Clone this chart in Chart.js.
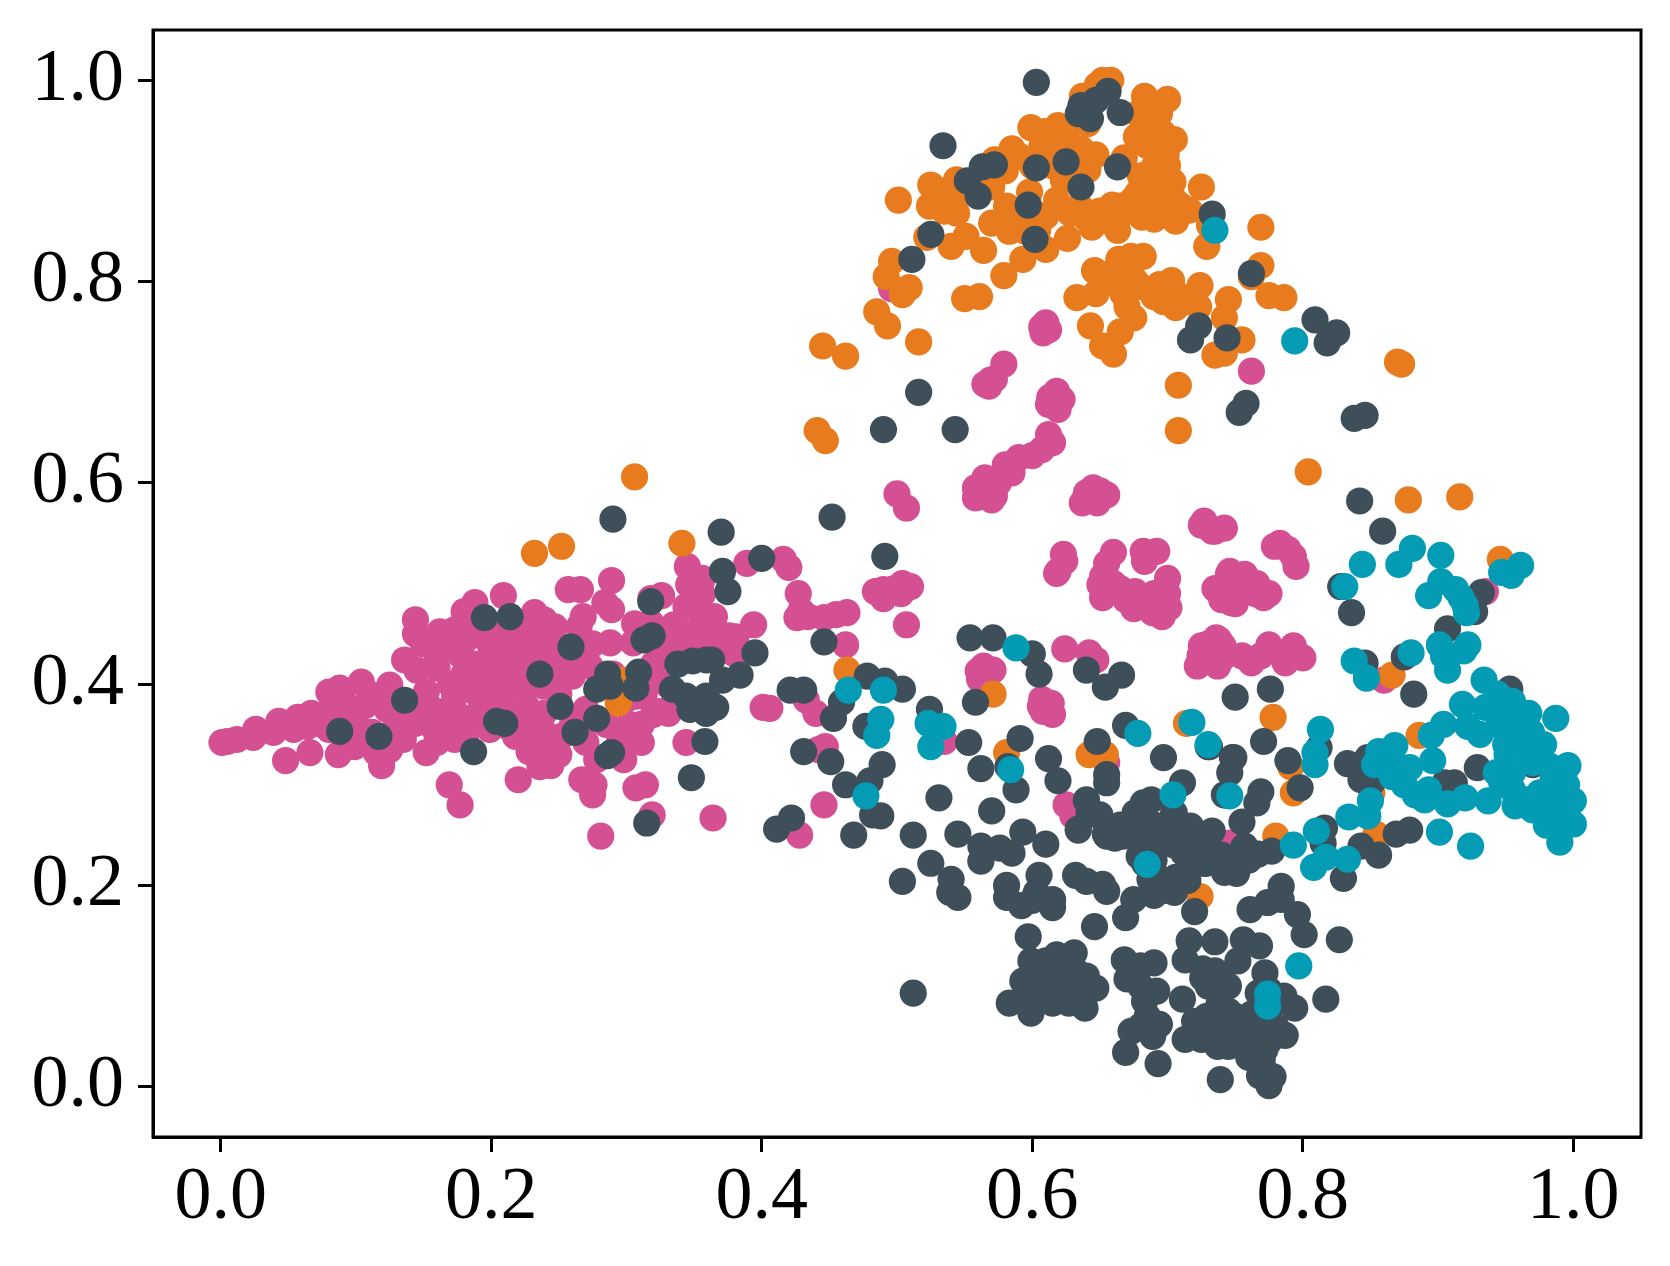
<!DOCTYPE html>
<html>
<head>
<meta charset="utf-8">
<style>
html, body { margin: 0; padding: 0; background: #fff; }
canvas { display: block; }
</style>
<script src="https://cdn.jsdelivr.net/npm/chart.js@4/dist/chart.umd.min.js"></script>
</head>
<body>
<canvas id="id_chart" width="1670" height="1266"></canvas>
<script>
var tickValues = [0, 0.2, 0.4, 0.6, 0.8, 1.0];

// values, [x, y]
var pinkPoints = [
[.001,.342],[.005,.343],[.012,.345],[.024,.347],[.026,.355],[.039,.352],[.043,.363],[.057,.367],[.054,.355],[.048,.324],[.066,.332],[.087,.330],[.067,.371],
[.080,.392],[.088,.396],[.104,.402],[.125,.399],[.088,.376],[.107,.379],[.123,.375],[.080,.373],[.096,.359],[.099,.338],[.080,.355],[.064,.358],[.115,.332],[.125,.335],[.119,.319],[.112,.352],[.107,.342],
[.144,.464],[.144,.450],[.136,.424],[.145,.414],[.160,.416],[.162,.452],[.173,.454],[.180,.472],[.188,.481],[.209,.488],
[.160,.429],[.178,.428],[.181,.444],[.197,.444],[.199,.424],
[.152,.392],[.149,.378],[.144,.361],[.160,.373],[.173,.388],[.186,.398],[.199,.405],[.212,.418],[.226,.438],[.212,.438],[.232,.471],[.239,.464],[.247,.457],[.228,.454],[.268,.467],[.257,.494],[.266,.494],[.289,.503],[.284,.481],[.289,.474],[.265,.457],[.288,.441],[.306,.460],[.305,.441],[.318,.485],
[.223,.418],[.239,.428],[.252,.414],[.260,.408],[.273,.418],[.212,.398],[.226,.398],[.239,.398],[.191,.388],[.199,.378],[.212,.378],[.226,.378],[.239,.371],[.212,.358],[.218,.348],[.228,.342],[.239,.352],[.199,.355],[.181,.348],[.160,.348],[.160,.342],[.152,.332],[.173,.345],
[.228,.333],[.236,.318],[.244,.319],[.220,.305],[.169,.300],[.177,.280],
[.267,.305],[.276,.300],[.275,.290],[.307,.297],[.314,.300],
[.281,.249],[.319,.270],[.364,.267],
[.252,.348],[.270,.342],[.278,.325],[.298,.325],[.311,.342],[.311,.360],[.302,.360],
[.313,.388],[.307,.388],[.315,.408],
[.344,.342],[.326,.373],[.331,.371],
[.346,.499],[.356,.489],[.344,.477],[.335,.459],[.334,.431],[.352,.441],[.326,.428],[.326,.488],[.318,.461],[.345,.517],[.356,.505],
[.355,.500],[.389,.520],[.416,.524],[.420,.516],
[.427,.490],[.426,.466],[.434,.467],[.429,.473],
[.455,.469],[.463,.471],[.446,.466],
[.394,.459],[.365,.467],[.376,.448],[.363,.444],[.355,.448],[.373,.445],[.381,.447],
[.462,.439],[.433,.384],[.440,.371],[.401,.377],[.406,.376],[.447,.338],[.442,.335],
[.446,.280],[.428,.250],
[.500,.589],[.507,.575],[.490,.494],[.505,.495],[.495,.491],[.504,.500],[.484,.492],[.507,.459],
[.623,.529],[.619,.512],[.624,.522],[.618,.510],
[.660,.531],[.652,.507],[.650,.499],[.652,.486],[.669,.484],[.676,.492],[.682,.532],[.692,.532],[.700,.505],[.689,.471],[.696,.467],[.701,.476],[.685,.476],[.698,.484],[.683,.522],
[.725,.558],[.733,.552],[.742,.555],[.727,.562],[.735,.552],
[.745,.509],[.741,.487],[.747,.481],[.759,.504],
[.738,.444],[.722,.418],[.737,.418],[.724,.428],[.743,.431],[.762,.421],[.755,.428],
[.624,.435],[.642,.431],[.647,.424],
[.564,.418],[.560,.413],[.561,.405],[.571,.414],
[.607,.385],[.608,.373],[.615,.370],[.606,.378],[.614,.381],
[.655,.322],[.625,.280],[.630,.269],[.535,.343],[.743,.241],[.746,.242],
[.610,.759],[.608,.749],[.579,.718],[.569,.702],[.568,.696],
[.618,.691],[.616,.679],[.619,.673],[.496,.793],[.762,.711],
[.558,.585],[.572,.587],[.558,.595],[.565,.605],[.575,.600],[.580,.618],[.590,.625],[.600,.627],[.607,.633],[.615,.640],[.612,.648],[.585,.610],[.561,.587],[.570,.583],
[.637,.580],[.648,.580],[.650,.592],[.640,.590],[.655,.588],[.645,.595],
[.783,.540],[.789,.534],[.795,.517],[.793,.527],[.779,.537],
[.746,.512],[.757,.509],[.766,.500],[.775,.490],[.740,.484],[.771,.486],[.752,.491],[.742,.497],
[.736,.446],[.725,.438],[.741,.438],[.762,.424],[.775,.439],[.787,.421],[.793,.438],[.800,.426],[.769,.428],
[.935,.492],[.860,.404],
// dense parts of the blobs
[.170,.400],[.180,.410],[.190,.420],[.200,.430],[.210,.410],[.220,.430],[.230,.410],[.245,.440],[.255,.420],[.250,.390],[.230,.360],[.220,.370],[.205,.385],[.190,.370],[.175,.370],[.165,.360],[.155,.360],[.140,.370],[.130,.360],[.135,.345],
[.110,.390],[.100,.370],[.090,.385],[.075,.360],[.060,.360],[.100,.350],[.165,.440],[.150,.440],[.175,.440],[.190,.455],[.205,.455],[.220,.445],[.240,.445],[.245,.400],[.265,.430],[.275,.440],[.240,.340],[.250,.330],[.260,.360],[.270,.375],[.285,.360],[.295,.345],[.290,.410],[.300,.385],[.320,.370],[.330,.400],[.340,.430],[.320,.420],[.330,.440],[.345,.450],[.355,.470],[.360,.450],[.365,.430],[.380,.430],
[.660,.500],[.665,.495],[.655,.520],[.690,.490],[.700,.490],[.675,.475],[.680,.480],
[.750,.500],[.755,.490],[.760,.495],[.750,.480],[.745,.495],[.735,.495],[.765,.490],[.730,.430],[.735,.430],[.730,.440],[.740,.425],
[.613,.685],[.612,.678],[.622,.683],[.607,.755],[.612,.752],[.565,.698],[.572,.703],[.498,.495],[.510,.497],[.503,.490],[.490,.485]
];

var orangePoints = [
[.445,.736],[.462,.726],[.516,.740],[.485,.770],[.493,.756],
[.496,.820],[.492,.805],[.509,.794],[.504,.787],
[.550,.783],[.561,.785],[.579,.806],[.593,.822],
[.564,.831],[.540,.835],[.551,.845],[.522,.844],
[.610,.832],[.626,.843],[.644,.854],[.663,.851],
[.570,.858],[.583,.850],[.581,.875],[.594,.862],[.604,.851],
[.501,.881],[.525,.896],[.524,.875],[.544,.901],[.544,.884],[.544,.868],
[.570,.894],[.572,.921],[.585,.932],[.599,.953],[.619,.955],[.609,.949],[.607,.934],[.598,.889],[.613,.934],
[.636,.932],[.647,.926],[.623,.901],[.641,.911],[.668,.923],[.618,.881],[.628,.868],[.639,.864],[.659,.876],[.674,.881],
[.681,.864],[.690,.862],[.706,.860],[.716,.871],[.725,.894],[.704,.899],[.690,.901],[.678,.888],[.691,.884],[.705,.881],[.690,.914],[.692,.927],[.699,.926],[.705,.941],[.697,.947],[.677,.944],[.683,.984],[.700,.981],[.694,.967],[.678,.967],
[.637,.984],[.648,.995],[.652,1.0],[.658,1.0],[.641,.957],
[.769,.854],[.769,.816],[.762,.805],[.729,.835],[.731,.856],
[.646,.811],[.664,.822],[.673,.825],[.682,.825],[.676,.801],[.667,.788],[.665,.798],[.694,.797],[.703,.801],[.706,.774],[.697,.780],[.724,.796],[.723,.775],[.745,.782],[.742,.764],
[.775,.786],[.786,.784],
[.633,.784],[.647,.788],[.643,.756],[.675,.764],[.665,.750],[.652,.736],[.660,.728],
[.755,.742],[.735,.727],[.742,.729],
[.708,.697],[.708,.652],[.441,.652],[.447,.642],
[.306,.606],[.232,.530],[.252,.537],[.341,.540],[.297,.404],[.294,.381],
[.804,.611],[.870,.720],[.873,.718],[.878,.583],[.916,.586],[.946,.524],
[.463,.414],[.571,.390],[.581,.332],[.642,.330],[.654,.330],[.714,.361],
[.778,.367],[.791,.318],[.793,.292],[.866,.409],[.886,.349],[.851,.292],[.780,.249],[.854,.251],[.724,.189],
// dense parts of the top cluster
[.660,.860],[.670,.870],[.685,.875],[.695,.870],[.700,.875],[.685,.890],[.680,.905],[.695,.905],[.700,.890],[.710,.875],[.700,.915],[.685,.935],[.695,.935],[.690,.955],
[.600,.870],[.610,.865],[.585,.865],[.595,.850],[.620,.935],[.625,.945],[.590,.925],[.600,.915],[.615,.915],[.580,.910],[.635,.875],[.650,.870],[.650,.860],[.665,.875],
[.670,.800],[.660,.810],[.655,.800],[.680,.795],[.670,.775],[.690,.785],[.710,.785],[.715,.780],[.530,.880],[.535,.870],[.535,.890]
];

var darkPoints = [
[.603,.998],[.534,.935],[.572,.916],[.563,.914],[.552,.900],[.560,.885],[.603,.913],[.625,.919],[.663,.914],[.636,.894],[.597,.876],[.602,.842],[.525,.847],[.511,.822],[.733,.867],
[.656,.989],[.647,.980],[.636,.975],[.634,.967],[.643,.962],[.665,.968],
[.762,.808],[.723,.756],[.717,.742],[.744,.744],[.809,.762],[.818,.739],[.825,.749],
[.516,.690],[.490,.653],[.543,.653],[.758,.679],[.753,.670],[.838,.664],[.846,.667],
[.290,.564],[.195,.466],[.214,.467],[.259,.437],[.318,.482],[.319,.448],[.313,.444],[.236,.410],[.136,.384],
[.286,.410],[.309,.412],[.307,.396],[.288,.398],[.278,.395],[.251,.378],[.278,.366],[.204,.363],[.210,.361],
[.088,.353],[.117,.348],[.187,.333],[.262,.352],[.289,.332],[.286,.329],[.348,.307],[.315,.262],
[.338,.420],[.349,.423],[.359,.424],[.334,.395],[.344,.388],[.347,.375],[.359,.388],[.359,.371],[.358,.343],
[.370,.551],[.371,.512],[.375,.492],[.400,.525],[.452,.566],[.491,.527],[.446,.442],[.395,.431],
[.363,.424],[.371,.404],[.384,.409],[.366,.377],
[.421,.394],[.431,.394],[.459,.382],[.453,.366],[.478,.408],[.491,.403],[.504,.395],[.477,.358],[.524,.375],
[.554,.446],[.571,.446],[.600,.430],[.605,.410],[.558,.382],[.553,.342],[.591,.346],[.562,.316],[.612,.326],[.619,.304],[.588,.295],[.582,.318],
[.431,.333],[.451,.323],[.489,.320],[.480,.304],[.462,.300],[.488,.269],[.482,.270],[.531,.287],[.570,.274],[.422,.267],[.411,.256],
[.468,.250],[.512,.250],[.545,.251],[.593,.253],[.610,.241],[.562,.239],[.576,.237],[.585,.232],[.562,.224],
[.525,.222],[.540,.206],[.504,.204],[.539,.193],[.545,.188],
[.640,.414],[.666,.409],[.654,.397],[.669,.359],[.648,.343],[.697,.327],[.655,.310],[.655,.302],[.711,.302],[.730,.338],[.749,.327],[.746,.312],[.743,.290],[.755,.263],
[.640,.285],[.642,.272],[.634,.256],[.650,.270],[.654,.251],[.675,.265],[.688,.285],[.705,.272],[.717,.259],[.733,.254],[.667,.249],[.696,.249],[.683,.244],[.711,.239],[.732,.229],[.757,.239],[.728,.222],[.749,.217],[.766,.282],
[.581,.200],[.605,.210],[.581,.188],[.592,.180],[.603,.193],[.615,.186],[.615,.178],
[.632,.210],[.640,.204],[.652,.201],[.655,.194],[.646,.159],[.669,.168],[.675,.186],
[.634,.255],[.640,.284],[.648,.270],[.655,.249],[.661,.247],[.676,.272],[.682,.282],[.704,.269],[.680,.242],[.679,.229],[.683,.222],
[.712,.232],[.727,.222],[.733,.231],[.742,.213],[.751,.212],[.756,.237],[.767,.231],[.777,.234],
[.693,.208],[.706,.208],[.705,.193],[.687,.206],[.720,.174],
[.784,.199],[.761,.176],[.774,.183],[.796,.171],[.801,.151],[.827,.146],
[.597,.149],[.599,.125],[.593,.105],[.583,.083],[.599,.073],
[.618,.131],[.631,.133],[.632,.115],[.647,.098],[.639,.078],[.627,.083],[.615,.083],[.609,.093],[.625,.100],
[.668,.126],[.690,.123],[.670,.107],[.692,.095],[.683,.085],[.694,.062],[.673,.055],[.689,.050],[.669,.034],[.693,.023],
[.716,.145],[.735,.144],[.756,.146],[.768,.140],[.752,.125],[.713,.126],[.726,.117],[.741,.105],[.726,.108],[.772,.113],
[.711,.087],[.775,.096],[.767,.093],[.794,.078],[.817,.087],[.786,.090],[.778,.082],
[.738,.082],[.729,.070],[.713,.047],[.725,.047],[.735,.064],[.746,.060],[.737,.040],[.750,.050],[.762,.072],[.787,.051],[.770,.057],[.760,.029],[.772,.037],[.768,.011],[.775,.001],[.774,.007],[.739,.007],[.778,.010],[.770,.027],
[.512,.093],
[.842,.582],[.859,.552],[.828,.497],[.836,.471],[.932,.491],[.927,.472],[.907,.455],[.846,.421],[.875,.427],[.882,.390],
[.750,.387],[.776,.395],[.771,.343],[.789,.324],[.748,.327],[.731,.338],[.812,.337],[.798,.297],[.769,.293],[.742,.290],
[.833,.321],[.848,.327],[.851,.302],[.843,.305],[.953,.395],[.929,.317],[.970,.320],[.905,.302],[.912,.302],
[.816,.257],[.869,.251],[.879,.255],[.843,.239],[.856,.230],[.815,.242],[.830,.207],[.784,.186],
// dense parts of the lower cluster
[.620,.100],[.610,.110],[.605,.100],[.620,.115],[.635,.090],[.600,.090],[.630,.105],[.610,.125],[.625,.120],[.640,.110],[.680,.100],[.680,.120],[.685,.070],[.680,.060],
[.730,.060],[.740,.055],[.745,.075],[.735,.050],[.720,.065],[.750,.070],[.755,.045],[.745,.040],[.755,.060],[.770,.080],[.775,.070],[.780,.060],[.775,.045],[.770,.020],[.735,.115],[.730,.100],[.745,.100],
[.690,.260],[.700,.250],[.705,.240],[.690,.225],[.715,.250],[.720,.245],[.665,.260],[.680,.260],[.660,.255],[.700,.195],[.690,.190],[.715,.205],[.720,.225],[.740,.230],[.760,.225],[.615,.185],[.600,.185]
];

var tealPoints = [
[.735,.851],[.794,.741],
[.844,.519],[.881,.535],[.871,.519],[.902,.528],[.831,.497],
[.902,.502],[.893,.488],[.913,.494],[.917,.486],[.920,.478],[.921,.471],
[.947,.511],[.954,.508],[.961,.518],
[.838,.423],[.847,.406],[.880,.431],
[.901,.439],[.922,.439],[.904,.428],[.919,.433],[.907,.414],
[.934,.404],[.944,.390],[.955,.383],[.967,.371],[.987,.366],[.918,.380],[.935,.377],[.947,.372],[.957,.368],[.904,.360],[.895,.349],[.922,.358],[.931,.350],[.949,.355],[.969,.352],[.978,.340],
[.951,.330],[.949,.315],[.943,.312],[.955,.312],[.970,.322],[.983,.318],[.996,.319],
[.813,.355],[.809,.332],[.809,.320],
[.856,.333],[.868,.339],[.853,.320],[.866,.308],[.879,.317],[.883,.290],[.893,.295],[.896,.324],
[.907,.281],[.920,.287],[.937,.284],[.947,.302],[.957,.279],[.970,.275],[.975,.292],[.986,.295],[1.0,.284],[1.0,.261],[.987,.261],[.990,.243],
[.850,.284],[.834,.268],[.848,.269],
[.810,.254],[.793,.240],[.817,.228],[.808,.218],[.833,.226],
[.901,.253],[.924,.239],[.746,.289],[.730,.340],[.718,.362],
[.464,.394],[.490,.394],[.488,.365],[.485,.349],[.523,.361],[.534,.358],[.525,.338],
[.588,.436],[.584,.315],[.477,.289],[.678,.351],[.704,.290],[.685,.221],
[.797,.120],[.774,.092],[.774,.080],
// dense parts of the right cluster
[.950,.370],[.945,.365],[.960,.360],[.965,.345],[.950,.340],[.960,.340],[.940,.380],[.985,.280],[.990,.270],[.985,.305],[.995,.300],[.980,.260],[.865,.320],[.875,.300],[.870,.310],[.890,.285],[.955,.295],[.965,.285]
];

var FONT_NAME = '"Liberation Serif", "Times New Roman", serif';
var SPINE_WIDTH = 3;

var _toXY = function( pairs ){
    return pairs.map(function(p){ return { x: p[0], y: p[1] }; });
};

var _makeDataset = function( pairs, color, order ){
    return {
        data: _toXY( pairs ),
        backgroundColor: color,
        borderWidth: 0,
        pointRadius: 13.6,
        pointHoverRadius: 13.6,
        order: order
    };
};

var _makeAxis = function( fixSize, labelPadding ){
    return {
        type: 'linear',
        min: -0.05,
        max: 1.05,
        afterBuildTicks: function(axis){
            axis.ticks = tickValues.map(function(v){ return { value: v }; });
        },
        afterFit: function(axis){
            // no room kept for half a tick label, the frame sits by layout padding only
            axis.paddingTop = 0;
            axis.paddingBottom = 0;
            axis.paddingLeft = 0;
            axis.paddingRight = 0;
            fixSize(axis);
        },
        border: { display: true, color: '#000', width: SPINE_WIDTH },
        grid: { drawOnChartArea: false, drawTicks: true, tickLength: 15, tickWidth: SPINE_WIDTH, tickColor: '#000' },
        ticks: {
            color: '#000',
            font: { family: FONT_NAME, size: 74 },
            maxRotation: 0,
            autoSkip: false,
            padding: labelPadding,
            callback: function(v){ return Number(v).toFixed(1); }
        }
    };
};

// top and right spines, chart.js only draws the axis side
var framePlugin = {
    id: 'frame',
    afterDatasetsDraw: function(chart){
        var a = chart.chartArea, ctx = chart.ctx;
        ctx.save();
        ctx.strokeStyle = '#000';
        ctx.lineWidth = SPINE_WIDTH;
        ctx.strokeRect(a.left, a.top, a.right - a.left, a.bottom - a.top);
        ctx.restore();
    }
};

new Chart(document.getElementById('id_chart').getContext('2d'), {
    type: 'scatter',
    data: {
        datasets: [
            _makeDataset( tealPoints, '#049BB5', 1 ),
            _makeDataset( darkPoints, '#3E4F59', 2 ),
            _makeDataset( orangePoints, '#E87B1E', 3 ),
            _makeDataset( pinkPoints, '#D55092', 4 )
        ]
    },
    options: {
        responsive: false,
        animation: false,
        layout: { padding: { top: 30, right: 29, left: 0, bottom: 0 } },
        plugins: { legend: { display: false }, tooltip: { enabled: false } },
        scales: {
            x: _makeAxis(function(axis){ axis.height = 1266 - 1137; }, 2),
            y: _makeAxis(function(axis){ axis.width = 153; }, 14)
        }
    },
    plugins: [ framePlugin ]
});
</script>
</body>
</html>
